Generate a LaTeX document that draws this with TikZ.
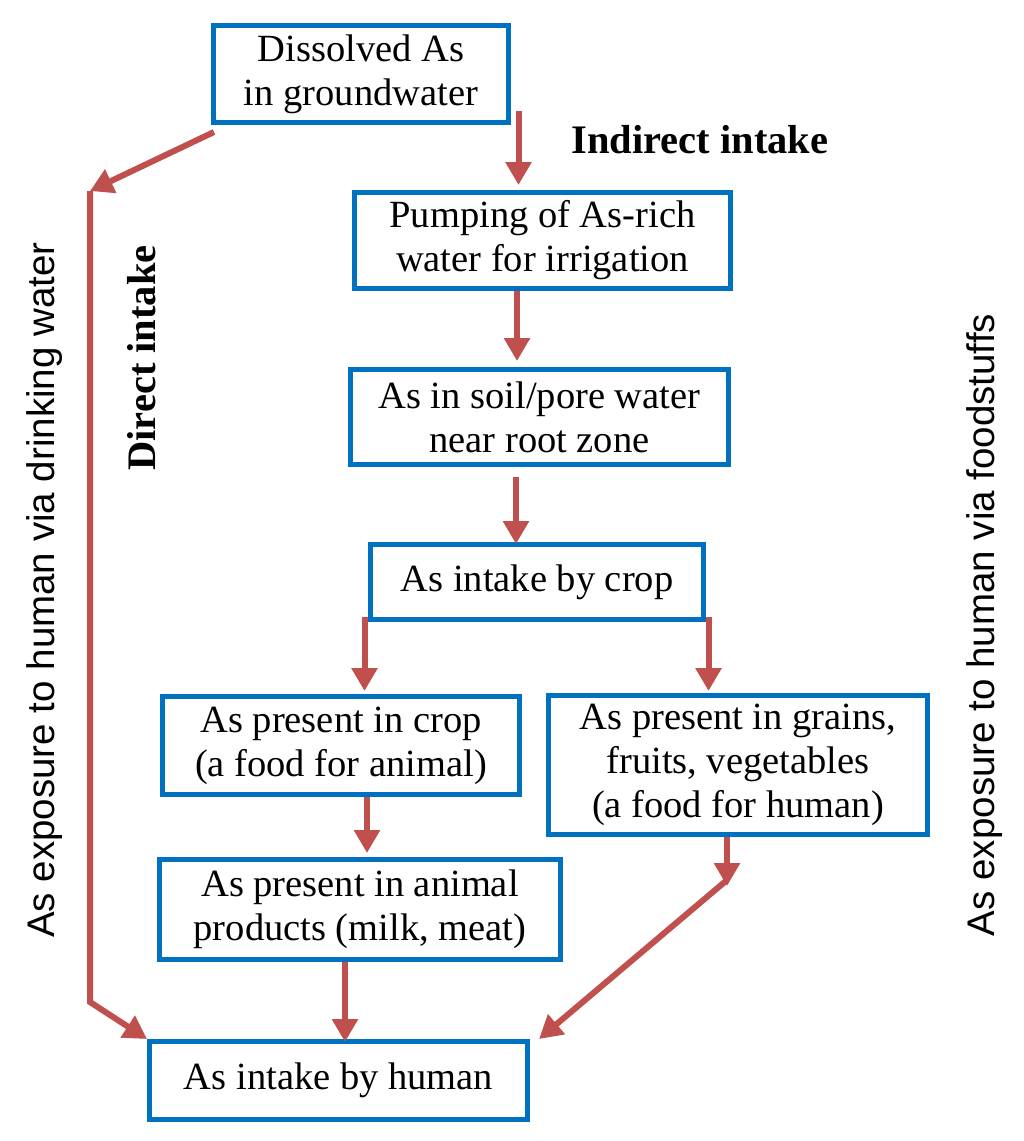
\documentclass[tikz,border=0pt]{standalone}
\usepackage{fontspec}
\setmainfont{Liberation Serif}
\newfontfamily\labelsans{Liberation Sans}
\usetikzlibrary{arrows.meta,calc}
\definecolor{boxblue}{RGB}{0,112,192}
\definecolor{arrred}{RGB}{192,80,77}
\begin{document}
\begin{tikzpicture}[x=1pt,y=-1pt,
  box/.style={draw=boxblue,line width=5pt,inner sep=0pt,align=center,
    font=\fontsize{38.5}{44}\selectfont},
  arr/.style={draw=arrred,line width=6pt,-{Triangle[width=25pt,length=23pt]}},
  lbl/.style={font=\fontsize{40.5}{44}\selectfont\bfseries,inner sep=0pt},
  side/.style={font=\labelsans\fontsize{38.5}{44}\selectfont,inner sep=0pt,rotate=90}]
\useasboundingbox[fill=white] (0,0) rectangle (1024,1141);

% boxes
\node[box,minimum width=295pt,minimum height=97pt]  (b1) at (361,74)     {Dissolved As\\in groundwater};
\node[box,minimum width=376pt,minimum height=96pt]  (b2) at (542.5,240.5) {Pumping of As-rich\\water for irrigation};
\node[box,minimum width=378pt,minimum height=95pt]  (b3) at (539.5,417)  {As in soil/pore water\\near root zone};
\node[box,minimum width=333pt,minimum height=75pt]  (b4) at (537,582)    {As intake by crop};
\node[box,minimum width=357pt,minimum height=98pt]  (ba) at (341,745.5)  {As present in crop\\(a food for animal)};
\node[box,minimum width=379pt,minimum height=139pt] (bg) at (738,765)    {As present in grains,\\fruits, vegetables\\(a food for human)};
\node[box,minimum width=401pt,minimum height=100pt] (bp) at (360,909.5)  {As present in animal\\products (milk, meat)};
\node[box,minimum width=378pt,minimum height=78pt]  (bh) at (338.5,1080.5) {As intake by human};

% labels
\node[lbl] (ind) at (700,140) {Indirect intake};
\node[lbl,rotate=90] (dir) at (142,358) {Direct intake};
\node[side] (sl) at (45,590) {As exposure to human via drinking water};
\node[side] (sr) at (985,625) {As exposure to human via foodstuffs};

% helper coordinates
\coordinate (L1) at (90,191);
\coordinate (L2) at (90,1002);
\coordinate (R1) at (727,886);
\coordinate (X517) at (517,0);
\coordinate (X516) at (516,0);
\coordinate (X367) at (367,0);
\coordinate (X345) at (345,0);

% connectors
\draw[arr] ($(b1.south east)+(7.5,-14.5)$) -- ($(b1.south east |- b2.north)+(7.5,-5)$);
\draw[arr] ($(b1.south west)+(3,7)$) -- (L1);
\draw[arr] (L1) -- (L2) -- (bh.north west);
\draw[arr] (b2.south -| X517) -- ($(b3.north -| X517)+(0,-6)$);
\draw[arr] ($(b3.south -| X516)+(0,10)$) -- ($(b4.north -| X516)+(0,2)$);
\draw[arr] ($(b4.south west)+(-3.5,-5)$) -- ($(b4.south west |- ba.north)+(-3.5,-3)$);
\draw[arr] ($(b4.south east)+(2.5,-5)$) -- ($(b4.south east |- bg.north)+(2.5,-2)$);
\draw[arr] (ba.south -| X367) -- ($(bp.north -| X367)+(0,-4)$);
\draw[arr] (bp.south -| X345) -- ($(bh.north -| X345)+(0,3)$);
\draw[arr] (bg.south -| R1) -- (R1);
\draw[arr] ($(R1)+(0,-6)$) -- ($(bh.north east)+(9,0)$);
\end{tikzpicture}
\end{document}
